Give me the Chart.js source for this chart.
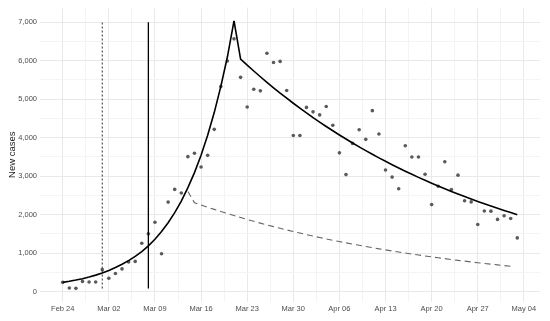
<!DOCTYPE html>
<html>
<head>
<meta charset="utf-8">
<script src="https://cdn.jsdelivr.net/npm/chart.js@4.4.1/dist/chart.umd.min.js"></script>
<style>
  html, body { margin: 0; padding: 0; background: #fff; }
  #wrap { width: 550px; height: 321px; }
</style>
</head>
<body>
<div id="wrap"><canvas id="casesChart"></canvas></div>
<script>
// day 0 = Feb 24, one value per day
const newCases = [
  240, 95, 85, 265, 248, 248, 570, 345, 470, 590,
  772, 785, 1255, 1500, 1800, 985, 2325, 2655, 2560, 3505,
  3595, 3235, 3540, 4215, 5325, 5990, 6565, 5565, 4795, 5255,
  5215, 6190, 5950, 5980, 5225, 4055, 4055, 4785, 4670, 4590,
  4810, 4320, 3605, 3040, 3850, 4205, 3955, 4700, 4095, 3160,
  2975, 2670, 3790, 3495, 3495, 3050, 2260, 2735, 3375, 2650,
  3025, 2360, 2330, 1745, 2095, 2090, 1875, 1970, 1900, 1395
];

// fitted curve, rising part (days 0-26)
const fitGrowth = [
  240, 268, 300, 336, 378, 428, 483, 550, 625, 710,
  805, 915, 1040, 1190, 1360, 1560, 1790, 2050, 2350, 2700,
  3090, 3540, 4060, 4650, 5330, 6100, 7030
];
// fitted curve, falling part (days 27-69)
const fitDecline = [
  6040, 5883, 5730, 5581, 5436, 5295, 5157, 5023, 4893, 4766,
  4642, 4521, 4404, 4289, 4178, 4069, 3963, 3860, 3760, 3662,
  3567, 3474, 3384, 3296, 3210, 3127, 3046, 2967, 2890, 2815,
  2742, 2670, 2601, 2533, 2468, 2403, 2341, 2280, 2221, 2163,
  2107, 2052, 1999
];
// dashed curve (days 19-68)
const altCurve = [
  2600, 2310, 2250, 2192, 2136, 2081, 2027, 1975, 1924, 1874,
  1826, 1779, 1733, 1688, 1645, 1602, 1561, 1521, 1481, 1443,
  1406, 1370, 1334, 1300, 1266, 1234, 1202, 1171, 1141, 1111,
  1083, 1055, 1027, 1001, 975, 950, 925, 902, 878, 856,
  834, 812, 791, 771, 751, 732, 713, 694, 676, 659
];
const growthStart = 0;
const declineStart = 27;
const altStart = 19;

const markerDays = [6, 13];      // Mar 01 (dashed), Mar 08 (solid)
const markerSpan = [80, 7000];

const xTickLabels = ["Feb 24", "Mar 02", "Mar 09", "Mar 16", "Mar 23", "Mar 30",
  "Apr 06", "Apr 13", "Apr 20", "Apr 27", "May 04"];
const yTickLabels = ["0", "1,000", "2,000", "3,000", "4,000", "5,000", "6,000", "7,000"];

const toPoints = (arr, start) => arr.map((v, i) => ({ x: start + i, y: v }));
const vline = (day) => markerSpan.map(v => ({ x: day, y: v }));

const lineBase = { type: "line", pointRadius: 0, tension: 0, fill: false };

const ctx = document.getElementById("casesChart").getContext("2d");
const casesChart = new Chart(ctx, {
  type: "scatter",
  data: {
    datasets: [
      { ...lineBase, data: toPoints(fitGrowth, growthStart), borderColor: "#000", borderWidth: 1.6 },
      { ...lineBase, data: toPoints([fitGrowth[fitGrowth.length - 1]].concat(fitDecline), declineStart - 1),
        borderColor: "#000", borderWidth: 1.6 },
      { ...lineBase, data: toPoints(altCurve, altStart), borderColor: "#666",
        borderWidth: 1.1, borderDash: [6, 4] },
      { ...lineBase, data: vline(markerDays[1]), borderColor: "#000", borderWidth: 1.3 },
      { ...lineBase, data: vline(markerDays[0]), borderColor: "#333",
        borderWidth: 1, borderDash: [2, 2] },
      {
        data: toPoints(newCases, 0),
        backgroundColor: "#5a5a5a",
        borderWidth: 0,
        pointRadius: 1.8,
      },
    ],
  },
  options: {
    responsive: true,
    maintainAspectRatio: false,
    animation: false,
    layout: { padding: { top: 7, right: 10, left: 0, bottom: 0 } },
    plugins: {
      legend: { display: false },
      tooltip: { enabled: false },
    },
    scales: {
      x: {
        type: "linear",
        min: -3.45,
        max: 72.45,
        afterBuildTicks: (scale) => {
          const t = [];
          for (let v = 0; v <= 70; v += 3.5) t.push({ value: v });
          scale.ticks = t;
        },
        afterFit: (scale) => { scale.height = 19; },
        border: { display: false },
        grid: {
          drawTicks: false,
          color: (c) => (c.tick && c.tick.value % 7 === 0 ? "#e9e9e9" : "#f4f4f4"),
          lineWidth: 1,
        },
        ticks: {
          autoSkip: false,
          maxRotation: 0,
          padding: 2,
          color: "#4d4d4d",
          font: { family: "Liberation Sans, Arial, sans-serif", size: 7.5 },
          callback: (v) => (v % 7 === 0 ? xTickLabels[v / 7] : ""),
        },
      },
      y: {
        min: -270,
        max: 7380,
        afterBuildTicks: (scale) => {
          const t = [];
          for (let v = 0; v <= 7000; v += 500) t.push({ value: v });
          scale.ticks = t;
        },
        afterFit: (scale) => { scale.width = 40; },
        border: { display: false },
        grid: {
          drawTicks: false,
          color: (c) => (c.tick && c.tick.value % 1000 === 0 ? "#e9e9e9" : "#f4f4f4"),
          lineWidth: 1,
        },
        ticks: {
          autoSkip: false,
          padding: 3,
          color: "#4d4d4d",
          font: { family: "Liberation Sans, Arial, sans-serif", size: 7.5 },
          callback: (v) => (v % 1000 === 0 ? yTickLabels[v / 1000] : ""),
        },
        title: {
          display: true,
          text: "New cases",
          color: "#1a1a1a",
          padding: { top: 7, bottom: 0 },
          font: { family: "Liberation Sans, Arial, sans-serif", size: 9.5 },
        },
      },
    },
  },
});
</script>
</body>
</html>
